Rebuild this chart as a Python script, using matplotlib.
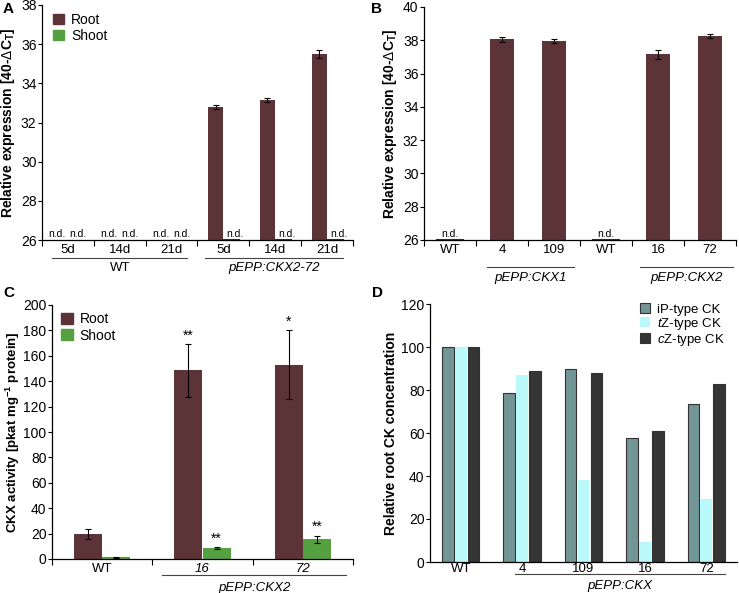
import numpy as np
import matplotlib
matplotlib.use("Agg")
import matplotlib.pyplot as plt
from matplotlib.patches import Patch

plt.rcParams['font.family'] = ['Liberation Sans', 'DejaVu Sans']
plt.rcParams['mathtext.fontset'] = 'custom'
plt.rcParams['mathtext.rm'] = 'Liberation Sans'
plt.rcParams['mathtext.it'] = 'Liberation Sans:italic'
plt.rcParams['mathtext.bf'] = 'Liberation Sans:bold'
plt.rcParams['font.size'] = 9

root_col = '#5c3336'
shoot_col = '#55a040'
ip_col = '#729595'
tz_col = '#b9f9f9'
cz_col = '#353535'

# panel A
a_labels = ['5d', '14d', '21d', '5d', '14d', '21d']
a_root = [None, None, None, 32.8, 33.15, 35.5]
a_root_err = [0, 0, 0, 0.1, 0.12, 0.2]

# panel B
b_labels = ['WT', '4', '109', 'WT', '16', '72']
b_vals = [None, 38.05, 37.95, None, 37.15, 38.25]
b_err = [0, 0.13, 0.1, 0, 0.28, 0.12]

# panel C
c_labels = ['WT', '16', '72']
c_root = [19.5, 148.5, 153]
c_root_err = [4, 21, 27]
c_shoot = [1.2, 8.5, 15.5]
c_shoot_err = [0.4, 1.0, 3.0]
c_root_star = ['', '**', '*']
c_shoot_star = ['', '**', '**']

# panel D
d_labels = ['WT', '4', '109', '16', '72']
d_ip = [100, 78.5, 90, 57.5, 73.5]
d_tz = [100, 87, 38, 9.3, 29.2]
d_cz = [100, 88.8, 87.8, 61.1, 82.8]

W, H = 739, 593
fig = plt.figure(figsize=(W / 100, H / 100), dpi=100)

def add_ax(l, r, t, b):
    return fig.add_axes([l / W, 1 - b / H, (r - l) / W, (b - t) / H])

def style(ax):
    for s in ['top', 'right']:
        ax.spines[s].set_visible(False)
    ax.spines['left'].set_linewidth(0.9)
    ax.spines['bottom'].set_linewidth(0.9)
    ax.tick_params(axis='y', direction='out', length=3, width=0.8, labelsize=10, pad=1)
    ax.tick_params(axis='x', which='major', length=0, labelsize=9.5, pad=3)
    ax.tick_params(axis='x', which='minor', direction='out', length=4, width=0.8)

def group_line(ax, x0, x1, y, text, ty, italic=True):
    tr = ax.get_xaxis_transform()
    ax.plot([x0, x1], [y, y], color='#444444', lw=0.8, transform=tr, clip_on=False)
    ax.text((x0 + x1) / 2, ty, text, transform=tr, ha='center', va='center',
            fontsize=9.5, style='italic' if italic else 'normal')

# ---- A
ax = add_ax(42, 353, 5, 240)
style(ax)
x = np.arange(6)
for i in range(6):
    if a_root[i] is None:
        ax.text(x[i] - 0.21, 26.05, 'n.d.', ha='center', va='bottom', fontsize=7.5)
        ax.text(x[i] + 0.2, 26.05, 'n.d.', ha='center', va='bottom', fontsize=7.5)
    else:
        ax.bar(x[i] - 0.15, a_root[i] - 26, 0.28, bottom=26, color=root_col,
               yerr=a_root_err[i], capsize=2, error_kw=dict(lw=0.8, capthick=0.8))
        ax.plot([x[i] + 0.02, x[i] + 0.3], [26, 26], color='#333333', lw=1.5, clip_on=False)
        ax.text(x[i] + 0.22, 26.05, 'n.d.', ha='center', va='bottom', fontsize=7.5)
ax.set_ylim(26, 38)
ax.set_xlim(-0.5, 5.5)
ax.set_yticks(range(26, 39, 2))
ax.set_xticks(x)
ax.set_xticklabels(a_labels)
ax.set_xticks(np.arange(-0.5, 6, 1), minor=True)
ax.set_ylabel(r'Relative expression [40-$\Delta$C$_\mathregular{T}$]', fontweight='bold',
              fontsize=10, labelpad=3)
group_line(ax, -0.3, 2.3, -0.077, 'WT', -0.12, italic=False)
group_line(ax, 2.65, 5.3, -0.077, 'pEPP:CKX2-72', -0.12)
ax.legend(handles=[Patch(color=root_col, label='Root'), Patch(color=shoot_col, label='Shoot')],
          loc='upper left', bbox_to_anchor=(-0.005, 1.02), frameon=False, fontsize=10,
          handlelength=0.8, handleheight=0.8, handletextpad=0.5, labelspacing=0.15)

# ---- B
ax = add_ax(424, 736, 7, 240)
style(ax)
x = np.arange(6)
for i in range(6):
    if b_vals[i] is None:
        ax.plot([x[i] - 0.25, x[i] + 0.25], [26, 26], color='#333333', lw=1.5, clip_on=False)
        ax.text(x[i], 26.05, 'n.d.', ha='center', va='bottom', fontsize=7.5)
    else:
        ax.bar(x[i], b_vals[i] - 26, 0.48, bottom=26, color=root_col,
               yerr=b_err[i], capsize=2, error_kw=dict(lw=0.8, capthick=0.8))
ax.set_ylim(26, 40)
ax.set_xlim(-0.5, 5.5)
ax.set_yticks(range(26, 41, 2))
ax.set_xticks(x)
ax.set_xticklabels(b_labels)
ax.set_xticks(np.arange(-0.5, 6, 1), minor=True)
ax.set_ylabel(r'Relative expression [40-$\Delta$C$_\mathregular{T}$]', fontweight='bold',
              fontsize=10, labelpad=3)
group_line(ax, 0.72, 2.38, -0.116, 'pEPP:CKX1', -0.165)
group_line(ax, 3.65, 5.45, -0.116, 'pEPP:CKX2', -0.165)

# ---- C
ax = add_ax(52, 353, 305, 559)
style(ax)
x = np.arange(3)
ax.bar(x - 0.14, c_root, 0.28, color=root_col, yerr=c_root_err, capsize=2,
       error_kw=dict(lw=0.8, capthick=0.8))
ax.bar(x + 0.14, c_shoot, 0.28, color=shoot_col, yerr=c_shoot_err, capsize=2,
       error_kw=dict(lw=0.8, capthick=0.8))
for i in range(3):
    if c_root_star[i]:
        ax.text(x[i] - 0.14, c_root[i] + c_root_err[i] + 1, c_root_star[i],
                ha='center', va='bottom', fontsize=10)
    if c_shoot_star[i]:
        ax.text(x[i] + 0.14, c_shoot[i] + c_shoot_err[i] + 1, c_shoot_star[i],
                ha='center', va='bottom', fontsize=10)
ax.set_ylim(0, 200)
ax.set_xlim(-0.5, 2.5)
ax.set_yticks(range(0, 201, 20))
ax.set_xticks(x)
ax.set_xticklabels(c_labels)
for lab in ax.get_xticklabels()[1:]:
    lab.set_style('italic')
ax.set_xticks(np.arange(-0.5, 3, 1), minor=True)
ax.set_ylabel(r'CKX activity [pkat mg$^{\mathbf{-1}}$ protein]', fontweight='bold',
              fontsize=9.5, labelpad=1)
group_line(ax, 0.6, 2.43, -0.064, 'pEPP:CKX2', -0.113)
ax.legend(handles=[Patch(color=root_col, label='Root'), Patch(color=shoot_col, label='Shoot')],
          loc='upper left', bbox_to_anchor=(-0.01, 1.02), frameon=False, fontsize=10,
          handlelength=0.8, handleheight=0.8, handletextpad=0.5, labelspacing=0.15)

# ---- D
ax = add_ax(430, 737, 304, 562)
style(ax)
x = np.arange(5)
ax.bar(x - 0.21, d_ip, 0.19, color=ip_col, edgecolor='#333333', lw=0.8, label='iP-type CK')
ax.bar(x, d_tz, 0.19, color=tz_col, label=r'$\mathit{t}$Z-type CK')
ax.bar(x + 0.21, d_cz, 0.19, color=cz_col, edgecolor='#333333', lw=0.8, label=r'$\mathit{c}$Z-type CK')
ax.set_ylim(0, 120)
ax.set_xlim(-0.5, 4.5)
ax.set_yticks(range(0, 121, 20))
ax.set_xticks(x)
ax.set_xticklabels(d_labels)
ax.tick_params(axis='x', pad=1)
ax.set_ylabel('Relative root CK concentration', fontweight='bold', fontsize=10, labelpad=2)
group_line(ax, 0.88, 4.3, -0.047, 'pEPP:CKX', -0.093)
ax.legend(loc='upper right', bbox_to_anchor=(1.0, 1.05), frameon=False, fontsize=9.5,
          handlelength=0.8, handleheight=0.8, handletextpad=0.5, labelspacing=0.0)

# panel letters
for lx, ly, t in [(3, 9, 'A'), (371, 9, 'B'), (3, 293, 'C'), (372, 293, 'D')]:
    fig.text(lx / W, 1 - ly / H, t, fontweight='bold', fontsize=11, va='center')

fig.savefig('out.png', dpi=100)
